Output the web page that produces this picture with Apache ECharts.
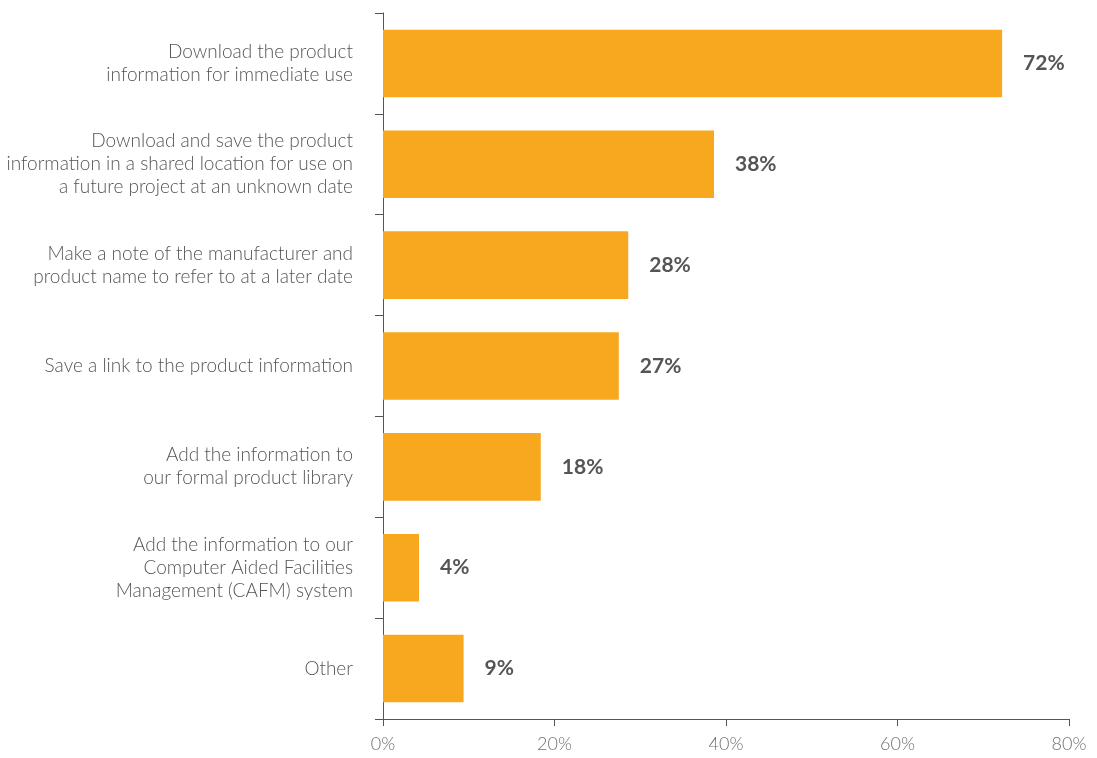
<!DOCTYPE html>
<html>
<head>
<meta charset="utf-8">
<script src="https://cdn.jsdelivr.net/npm/echarts@6/dist/echarts.min.js"></script>
<style>
html,body{margin:0;padding:0;background:#fff;}
#chart{width:1097px;height:758px;}
</style>
</head>
<body>
<div id="chart"></div>
<script>
const categories = [
  "Download the product\ninformation for immediate use",
  "Download and save the product\ninformation in a shared location for use on\na future project at an unknown date",
  "Make a note of the manufacturer and\nproduct name to refer to at a later date",
  "Save a link to the product information",
  "Add the information to\nour formal product library",
  "Add the information to our\nComputer Aided Facilities\nManagement (CAFM) system",
  "Other"
];
const values = [72.2, 38.6, 28.6, 27.5, 18.4, 4.2, 9.4];
const valueLabels = ["72%", "38%", "28%", "27%", "18%", "4%", "9%"];
const xTicks = [0, 20, 40, 60, 80];

const chart = echarts.init(document.getElementById('chart'));
chart.setOption({
  animation: false,
  grid: {left: 383, right: 28, top: 13, bottom: 39, containLabel: false},
  xAxis: {
    type: 'value', min: 0, max: 80, interval: 20,
    axisLine: {show: true, lineStyle: {color: '#555', width: 1}},
    axisTick: {show: true, length: 7, lineStyle: {color: '#555'}},
    splitLine: {show: false},
    axisLabel: {
      color: '#6f6f6f', fontSize: 18, fontFamily: 'Lato', fontWeight: 300, margin: 16,
      formatter: v => xTicks.includes(v) ? v + '%' : ''
    }
  },
  yAxis: {
    type: 'category', inverse: true, data: categories,
    axisLine: {show: true, lineStyle: {color: '#555', width: 1}},
    axisTick: {show: true, length: 8, lineStyle: {color: '#555'}},
    axisLabel: {
      color: '#555', fontSize: 19, fontFamily: 'Lato', fontWeight: 300,
      lineHeight: 23, margin: 30, align: 'right'
    }
  },
  series: [{
    type: 'bar',
    data: values.map((v, i) => ({value: v, labelText: valueLabels[i]})),
    barWidth: '67%',
    itemStyle: {color: '#F7A81F'},
    label: {
      show: true, position: 'right', distance: 21,
      color: '#555', fontSize: 21, fontWeight: 'bold', fontFamily: 'Lato',
      formatter: p => valueLabels[p.dataIndex]
    }
  }]
});
</script>
</body>
</html>
